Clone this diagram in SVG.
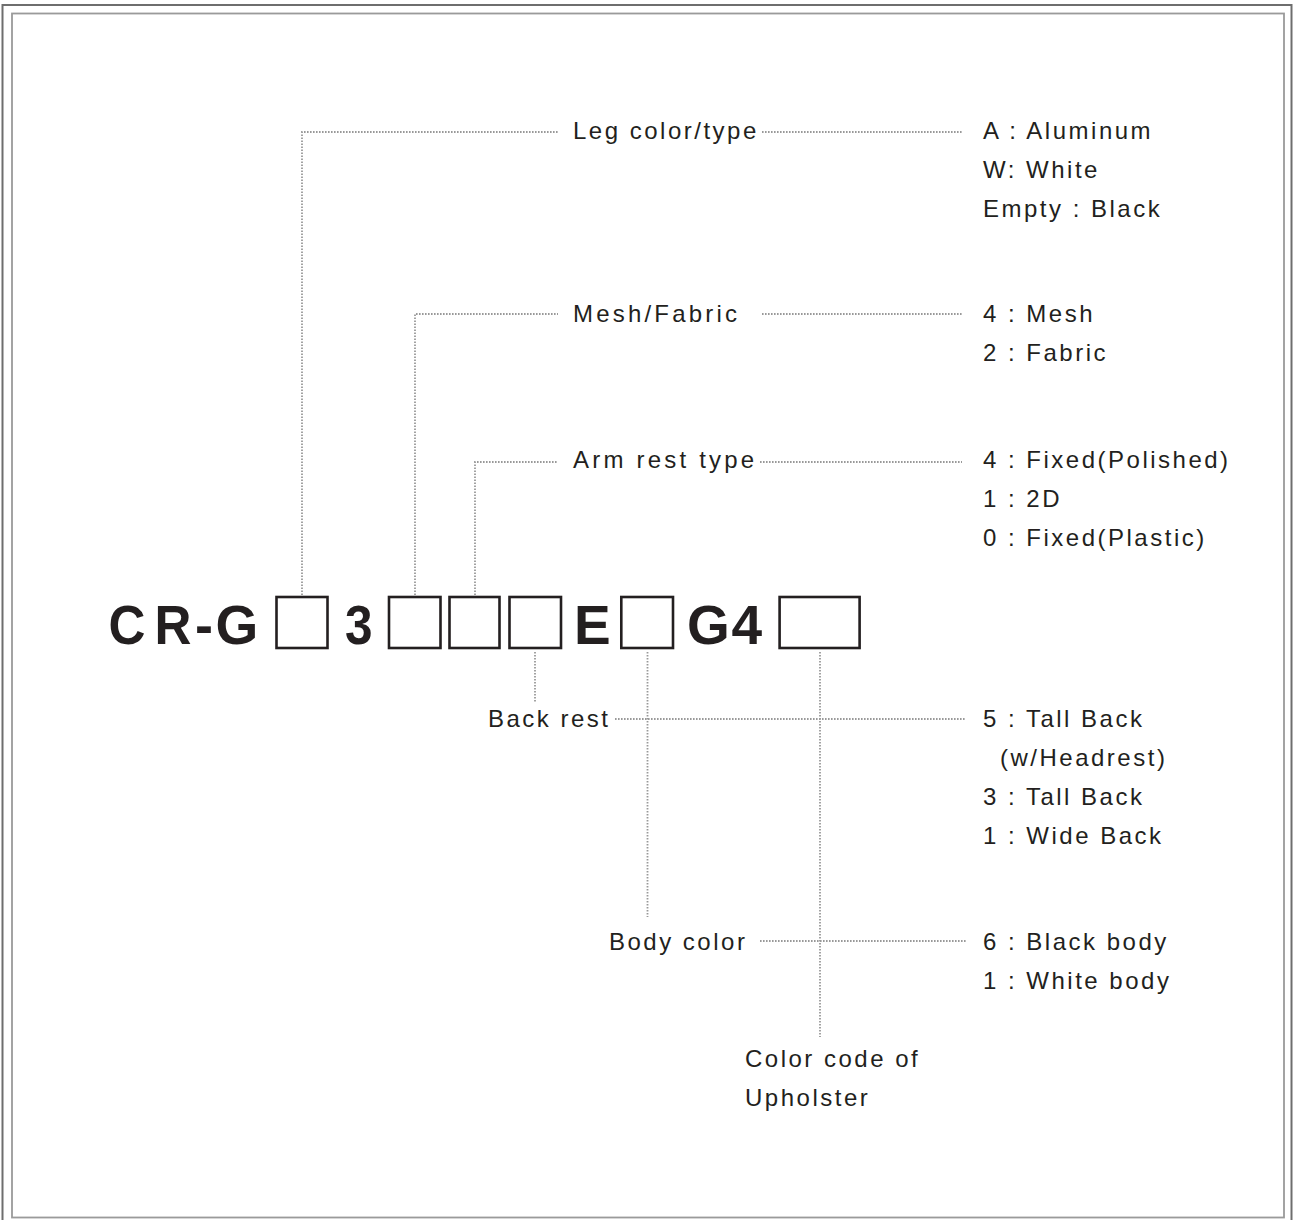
<svg xmlns="http://www.w3.org/2000/svg" width="1293" height="1220" viewBox="0 0 1293 1220">
<style>
.t{font-family:"Liberation Sans",Arial,sans-serif;font-size:24px;letter-spacing:2.5px;fill:#231f20}
.big{font-family:"Liberation Sans",Arial,sans-serif;font-size:55px;font-weight:bold;fill:#231f20}
.box{fill:none;stroke:#231f20;stroke-width:2.6}
.dot{fill:none;stroke:#999;stroke-width:1.8;stroke-dasharray:1.6 1.4}
</style>
<rect width="1293" height="1220" fill="#fff"/>
<rect x="2.5" y="5" width="1289" height="1240" fill="none" stroke="#6e6e6e" stroke-width="2"/>
<rect x="12" y="13.5" width="1272" height="1204" fill="none" stroke="#9a9a9a" stroke-width="1.8"/>

<g id="code">
<text class="big" transform="translate(108.5,644) scale(0.93,1)">C</text>
<text class="big" transform="translate(154.4,644) scale(0.93,1)">R</text>
<text class="big" x="195" y="644" textLength="18" lengthAdjust="spacingAndGlyphs">-</text>
<text class="big" x="215.6" y="644">G</text>
<text class="big" transform="translate(345,644) scale(0.9,1)">3</text>
<text class="big" x="574" y="644">E</text>
<text class="big" x="687" y="644">G</text>
<text class="big" x="731.6" y="644">4</text>
<rect class="box" x="276.5" y="597" width="51" height="51"/>
<rect class="box" x="389" y="597" width="51.5" height="51"/>
<rect class="box" x="449.5" y="597" width="50" height="51"/>
<rect class="box" x="509.5" y="597" width="51.5" height="51"/>
<rect class="box" x="621.3" y="597" width="51.7" height="51"/>
<rect class="box" x="779.6" y="597" width="80" height="51"/>
</g>

<g id="leg">
<text class="t" x="573" y="139">Leg color/type</text>
<text class="t" x="983" y="139">A : Aluminum</text>
<text class="t" x="983" y="178">W: White</text>
<text class="t" x="983" y="217">Empty : Black</text>
</g>
<g id="mesh">
<text class="t" x="573" y="322" style="letter-spacing:3.2px">Mesh/Fabric</text>
<text class="t" x="983" y="322">4 : Mesh</text>
<text class="t" x="983" y="361">2 : Fabric</text>
</g>
<g id="arm">
<text class="t" x="573" y="468" style="letter-spacing:3.2px">Arm rest type</text>
<text class="t" x="983" y="468">4 : Fixed(Polished)</text>
<text class="t" x="983" y="507">1 : 2D</text>
<text class="t" x="983" y="546">0 : Fixed(Plastic)</text>
</g>
<g id="back">
<text class="t" x="488" y="727">Back rest</text>
<text class="t" x="983" y="727">5 : Tall Back</text>
<text class="t" x="1000" y="766">(w/Headrest)</text>
<text class="t" x="983" y="805">3 : Tall Back</text>
<text class="t" x="983" y="844">1 : Wide Back</text>
</g>
<g id="body">
<text class="t" x="609" y="950">Body color</text>
<text class="t" x="983" y="950">6 : Black body</text>
<text class="t" x="983" y="989">1 : White body</text>
</g>
<g id="upholster">
<text class="t" x="745" y="1067">Color code of</text>
<text class="t" x="745" y="1106">Upholster</text>
</g>

<g id="connectors">
<path class="dot" d="M302 595 V132 H558"/>
<path class="dot" d="M762 132 H962"/>
<path class="dot" d="M415 595 V314 H558"/>
<path class="dot" d="M762 314 H962"/>
<path class="dot" d="M475 595 V462 H558"/>
<path class="dot" d="M760 462 H962"/>
<path class="dot" d="M535 652 V702"/>
<path class="dot" d="M615 719 H966"/>
<path class="dot" d="M647.5 652 V917"/>
<path class="dot" d="M760 941 H966"/>
<path class="dot" d="M820 652 V1037"/>
</g>
</svg>
